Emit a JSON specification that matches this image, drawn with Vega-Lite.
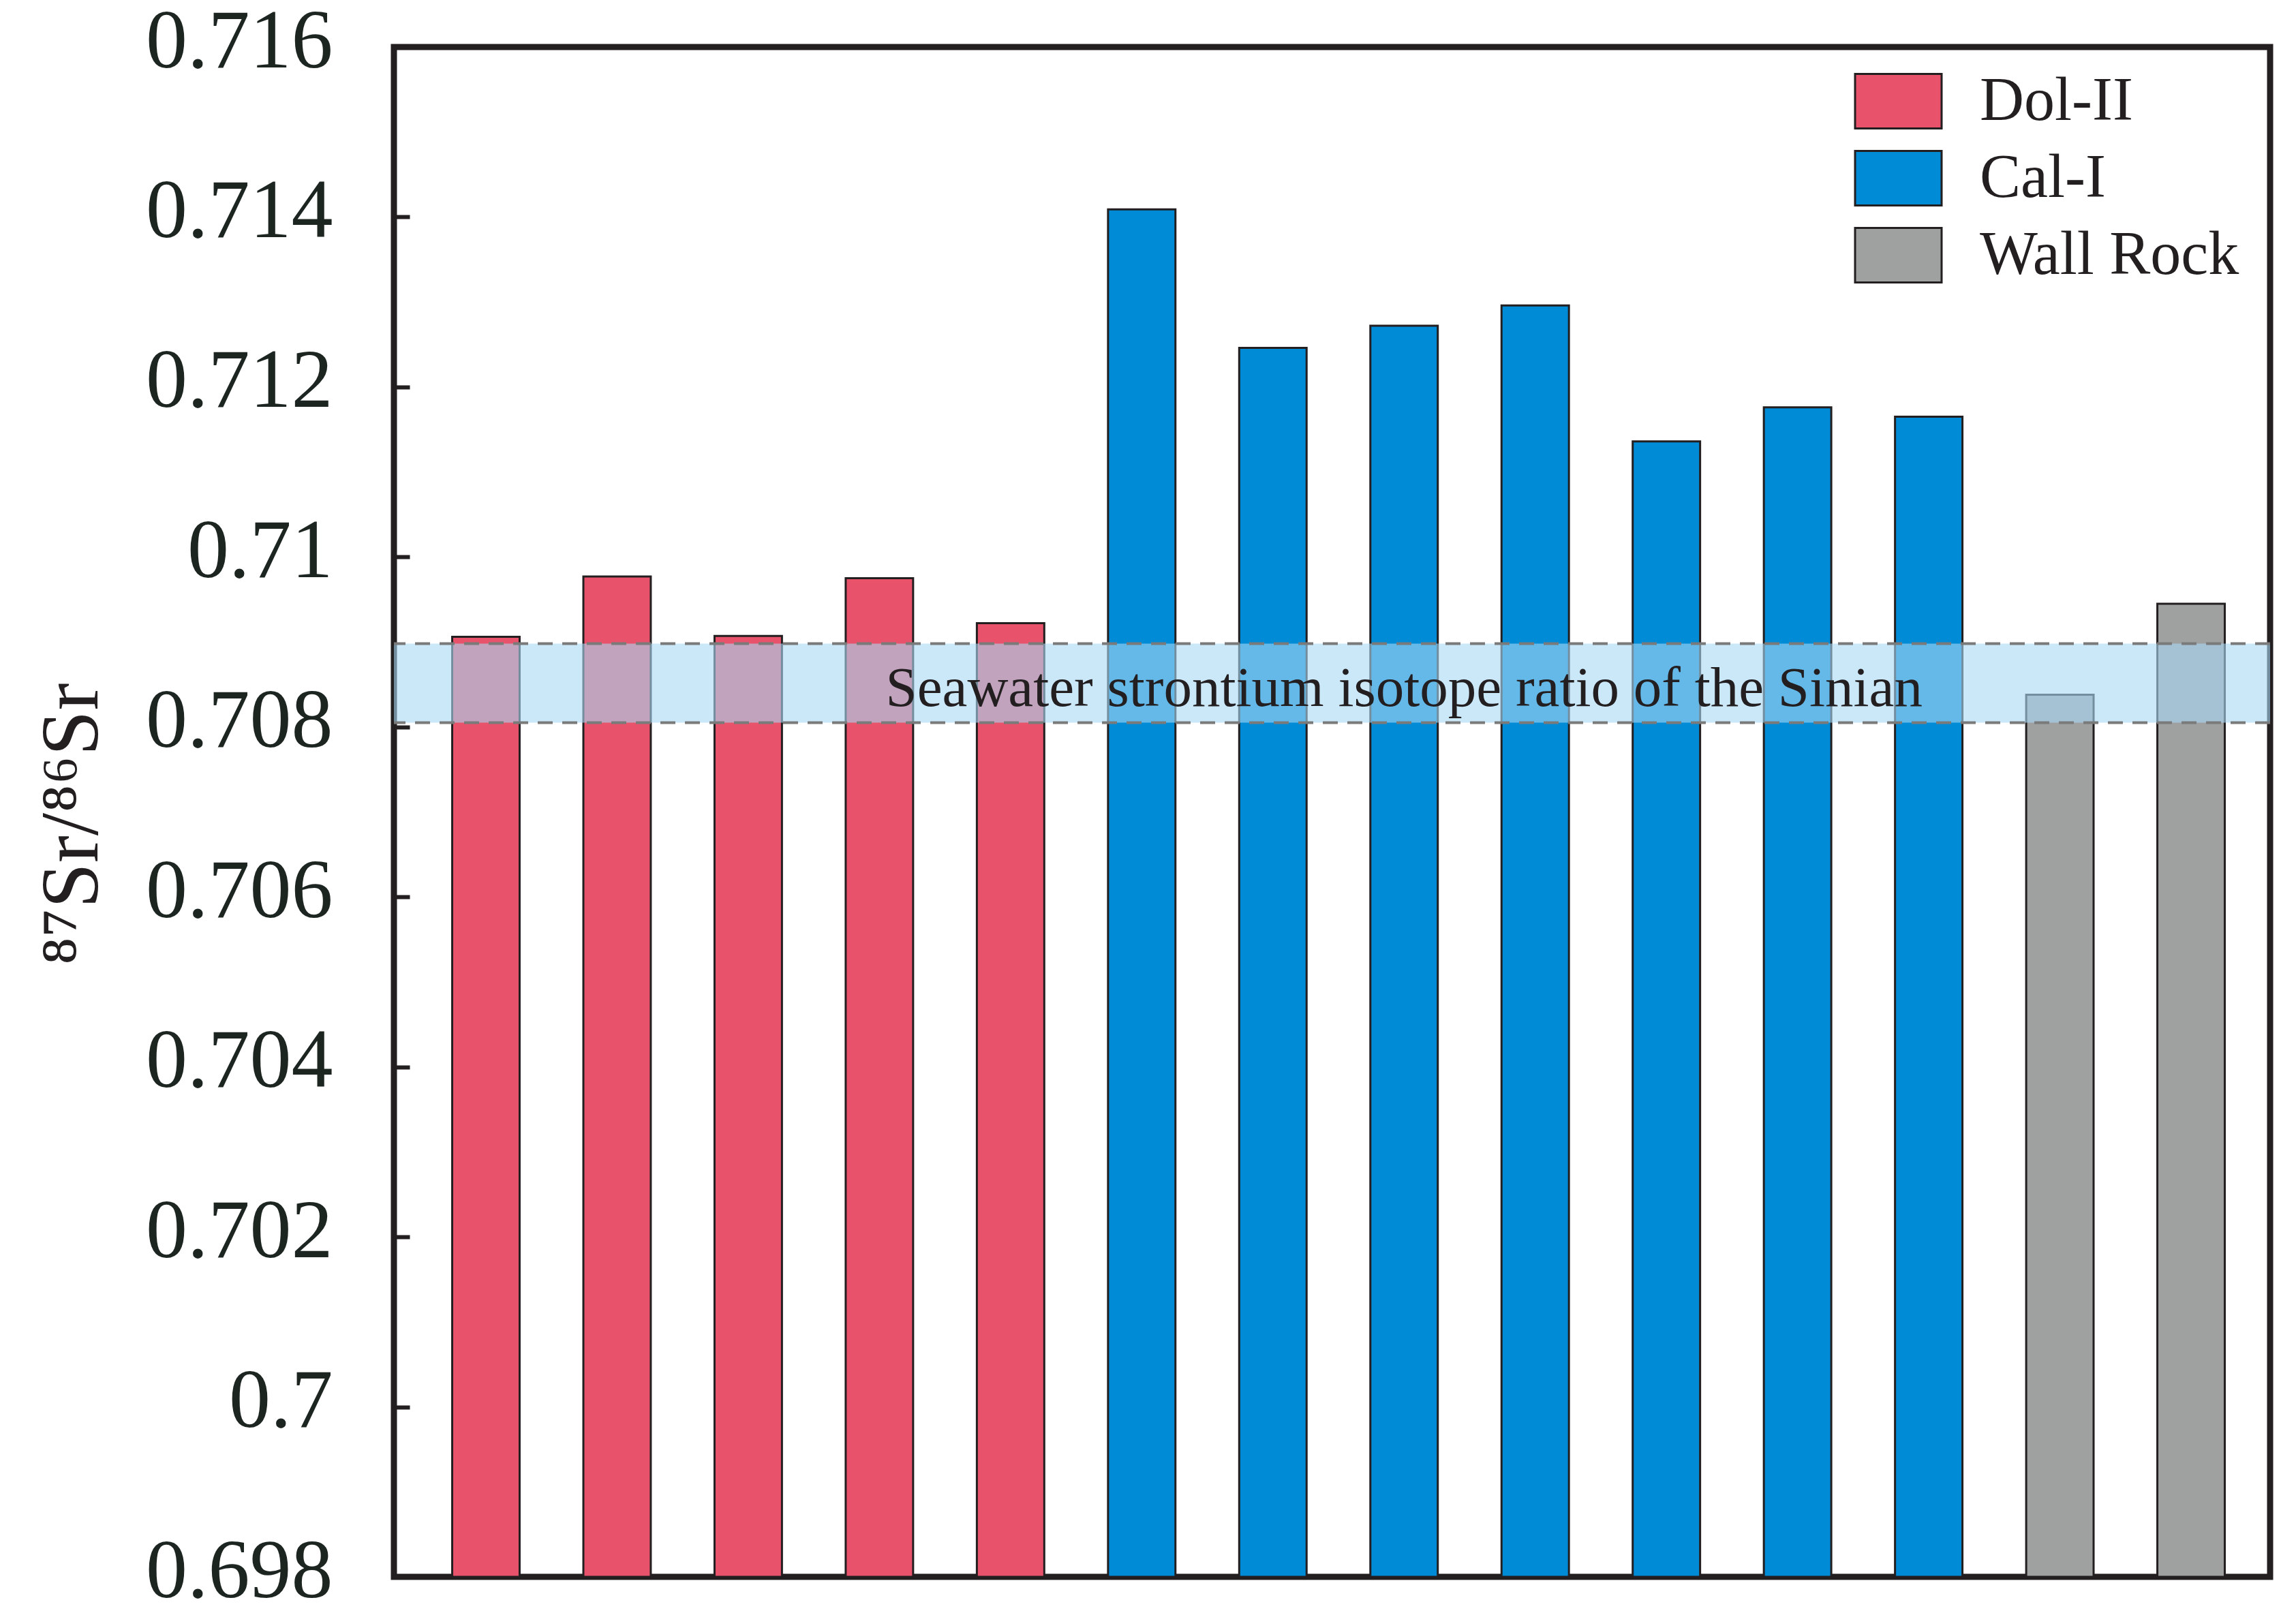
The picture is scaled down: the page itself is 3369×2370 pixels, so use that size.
{
  "$schema": "https://vega.github.io/schema/vega-lite/v6.json",
  "width": 2753,
  "height": 2245,
  "autosize": {"type": "none"},
  "padding": {"left": 578, "top": 69, "right": 38, "bottom": 56},
  "background": "white",
  "config": {
    "view": {"stroke": "#231f20", "strokeWidth": 9},
    "font": "Liberation Serif"
  },
  "datasets": {
    "samples": [
      {"sample": "01", "type": "Dol-II", "ratio": 0.70906},
      {"sample": "02", "type": "Dol-II", "ratio": 0.70977},
      {"sample": "03", "type": "Dol-II", "ratio": 0.70907},
      {"sample": "04", "type": "Dol-II", "ratio": 0.70975},
      {"sample": "05", "type": "Dol-II", "ratio": 0.70922},
      {"sample": "06", "type": "Cal-I", "ratio": 0.71409},
      {"sample": "07", "type": "Cal-I", "ratio": 0.71246},
      {"sample": "08", "type": "Cal-I", "ratio": 0.71272},
      {"sample": "09", "type": "Cal-I", "ratio": 0.71296},
      {"sample": "10", "type": "Cal-I", "ratio": 0.71136},
      {"sample": "11", "type": "Cal-I", "ratio": 0.71176},
      {"sample": "12", "type": "Cal-I", "ratio": 0.71165},
      {"sample": "13", "type": "Wall Rock", "ratio": 0.70838},
      {"sample": "14", "type": "Wall Rock", "ratio": 0.70945}
    ],
    "band": [
      {"lo": 0.70805, "hi": 0.70898, "label": "Seawater strontium isotope ratio of the Sinian"}
    ]
  },
  "layer": [
    {
      "data": {"name": "samples"},
      "mark": {"type": "bar", "stroke": "#231f20", "strokeWidth": 3},
      "encoding": {
        "x": {
          "field": "sample",
          "type": "nominal",
          "scale": {"paddingInner": 0.486, "paddingOuter": 0.395, "align": 0.5625},
          "axis": null
        },
        "y": {
          "field": "ratio",
          "type": "quantitative",
          "scale": {"domain": [0.698, 0.716], "zero": false, "nice": false},
          "axis": {
            "values": [0.698, 0.7, 0.702, 0.704, 0.706, 0.708, 0.71, 0.712, 0.714, 0.716],
            "format": ".3~f",
            "title": "⁸⁷Sr/⁸⁶Sr",
            "domain": false,
            "grid": false,
            "tickSize": -23,
            "tickWidth": 6,
            "tickColor": "#231f20",
            "labelFont": "Liberation Serif",
            "labelFontSize": 122,
            "labelColor": "#1c2520",
            "labelPadding": 113,
            "labelOffset": -8,
            "labelLimit": 1000,
            "labelFlush": false,
            "labelOverlap": false,
            "titleFont": "Liberation Serif",
            "titleFontSize": 120,
            "titleFontWeight": "normal",
            "titleColor": "#231f20",
            "titleAngle": -90,
            "titleAlign": "center",
            "titleBaseline": "alphabetic",
            "titleX": -436,
            "titleY": 1140
          }
        },
        "y2": {"datum": 0.698},
        "color": {
          "field": "type",
          "type": "nominal",
          "scale": {
            "domain": ["Dol-II", "Cal-I", "Wall Rock"],
            "range": ["#e8536b", "#008bd6", "#9fa0a0"]
          },
          "legend": {
            "orient": "none",
            "legendX": 2156,
            "legendY": 28,
            "title": null,
            "padding": 0,
            "symbolType": "M-1.27,-0.8H1.27V0.8H-1.27Z",
            "symbolSize": 10000,
            "symbolStrokeColor": "#231f20",
            "symbolStrokeWidth": 3,
            "symbolOpacity": 1,
            "labelFont": "Liberation Serif",
            "labelFontSize": 90,
            "labelColor": "#231f20",
            "labelOffset": 68,
            "labelLimit": 1000,
            "rowPadding": 15
          }
        }
      }
    },
    {
      "data": {"name": "band"},
      "mark": {"type": "rect", "fill": "#a8d9f5", "opacity": 0.6},
      "encoding": {
        "y": {"field": "lo", "type": "quantitative"},
        "y2": {"field": "hi"}
      }
    },
    {
      "data": {"name": "band"},
      "mark": {"type": "rule", "stroke": "#7a7a7a", "strokeWidth": 4, "strokeDash": [22, 14]},
      "encoding": {"y": {"field": "lo", "type": "quantitative"}}
    },
    {
      "data": {"name": "band"},
      "mark": {"type": "rule", "stroke": "#7a7a7a", "strokeWidth": 4, "strokeDash": [22, 14]},
      "encoding": {"y": {"field": "hi", "type": "quantitative"}}
    },
    {
      "data": {"name": "band"},
      "mark": {
        "type": "text",
        "font": "Liberation Serif",
        "fontSize": 83,
        "color": "#231f20",
        "align": "center",
        "baseline": "alphabetic"
      },
      "encoding": {
        "x": {"datum": "08", "type": "nominal"},
        "y": {"datum": 0.70825, "type": "quantitative"},
        "text": {"field": "label"}
      }
    }
  ]
}
